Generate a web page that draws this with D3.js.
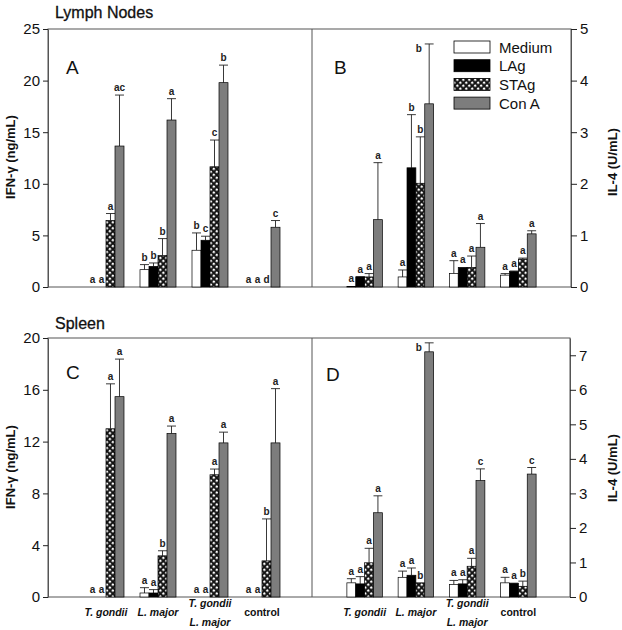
<!DOCTYPE html>
<html><head><meta charset="utf-8">
<script src="https://cdn.jsdelivr.net/npm/d3@7/dist/d3.min.js"></script>
<style>body{margin:0;background:#fff}svg{display:block;font-family:"Liberation Sans",Arial,sans-serif}</style>
</head><body><svg id="c" width="622" height="630"></svg>
<script>
const groups = ["T. gondii", "L. major", "T. gondii + L. major", "control"];
const treatments = ["Medium", "LAg", "STAg", "Con A"];

// Panel A: IFN-gamma, lymph nodes (ng/mL) — rows = groups, cols = treatments
const ifnLN      = [[0,0,6.44,13.66],[1.68,2.0,3.04,16.18],[3.56,4.53,11.65,19.8],[0,0,0,5.79]];
const ifnLNerr   = [[0,0,7.12,18.6],[2.17,2.33,4.69,18.25],[5.24,4.92,14.24,21.5],[0,0,0,6.44]];
const ifnLNlab   = [["a","a","a","ac"],["b","b","b","a"],["b","c","c","b"],["a","a","d","c"]];
// Panel B: IL-4, lymph nodes (U/mL)
const il4LN      = [[0.01,0.195,0.195,1.305],[0.195,2.31,2.01,3.55],[0.26,0.38,0.38,0.77],[0.23,0.30,0.54,1.03]];
const il4LNerr   = [[0.01,0.2,0.26,2.41],[0.33,3.34,2.91,4.71],[0.51,0.38,0.60,1.23],[0.26,0.31,0.56,1.09]];
const il4LNlab   = [["a","a","a","a"],["a","b","b","b"],["a","a","a","a"],["a","a","a","a"]];
// Panel C: IFN-gamma, spleen (ng/mL)
const ifnSP      = [[0,0,12.99,15.47],[0.31,0.31,3.18,12.63],[0,0,9.44,11.9],[0,0,2.79,11.9]];
const ifnSPerr   = [[0,0,16.46,18.37],[0.72,0.57,3.57,13.2],[0,0,9.88,12.73],[0,0,6.03,16.09]];
const ifnSPlab   = [["a","a","a","a"],["a","a","b","a"],["a","a","a","a"],["a","a","b","a"]];
// Panel D: IL-4, spleen (U/mL)
const il4SP      = [[0.41,0.38,0.99,2.44],[0.57,0.63,0.41,7.10],[0.36,0.38,0.89,3.37],[0.41,0.39,0.31,3.56]];
const il4SPerr   = [[0.53,0.59,1.41,2.93],[0.75,0.84,0.41,7.36],[0.48,0.50,1.12,3.71],[0.57,0.40,0.46,3.75]];
const il4SPlab   = [["a","a","a","a"],["a","a","b","b"],["a","a","a","c"],["a","a","b","c"]];

const ticksIFN_LN = [0,5,10,15,20,25];
const ticksIL4_LN = [0,1,2,3,4,5];
const ticksIFN_SP = [0,4,8,12,16,20];
const ticksIL4_SP = [0,1,2,3,4,5,6,7];

const svg = d3.select("#c");
const defs = svg.append("defs");
const pat = defs.append("pattern").attr("id","hatch").attr("patternUnits","userSpaceOnUse")
  .attr("width",4.2).attr("height",4.2).attr("patternTransform","rotate(45)");
pat.append("rect").attr("width",4.2).attr("height",4.2).attr("fill","#111");
pat.append("rect").attr("x",0.7).attr("y",0.7).attr("width",2.2).attr("height",2.2).attr("fill","#fff");

const fills = ["#fff","#000","url(#hatch)","#7d7d7d"];
const grey = "#555";
const fmt = d3.format("d");

function panel(opts){
  const {left,right,top,bottom,domain,ticks,vals,errs,labs,side,letter,xr,letterPos} = opts;
  const y = d3.scaleLinear().domain(domain).range([bottom,top]);
  const x0 = d3.scaleBand().domain(groups).range(xr).paddingInner(0.3077).paddingOuter(0.1538);
  const x1 = d3.scaleBand().domain(treatments).range([0,x0.bandwidth()]);
  const g = svg.append("g");
  groups.forEach((grp,gi)=>{
    treatments.forEach((t,ti)=>{
      const bx = x0(grp)+x1(t), bw = x1.bandwidth(), v = vals[gi][ti], e = errs[gi][ti];
      const cx = bx+bw/2;
      if(e>v){
        g.append("line").attr("x1",cx).attr("x2",cx).attr("y1",y(v)).attr("y2",y(e)).attr("stroke","#222").attr("stroke-width",0.9);
        g.append("line").attr("x1",bx).attr("x2",bx+bw).attr("y1",y(e)).attr("y2",y(e)).attr("stroke","#222").attr("stroke-width",0.9);
      }
      if(v>0){
        g.append("rect").attr("x",bx).attr("y",y(v)).attr("width",bw).attr("height",y(0)-y(v))
          .attr("fill",fills[ti]).attr("stroke","#000").attr("stroke-width",0.7);
      }
      let ly = y(Math.max(v,e))-4, lx = cx;
      if(ly < top+12){ lx = bx-6; ly = y(e)+8; }
      g.append("text").attr("x",lx).attr("y",ly).attr("text-anchor","middle")
        .attr("font-size",10).attr("font-weight","bold").attr("fill","#222").text(labs[gi][ti]);
    });
  });
  const axis = side==="left" ? d3.axisLeft(y).tickSize(5) : d3.axisRight(y).tickSize(6);
  axis.tickValues(ticks).tickFormat(fmt).tickSizeOuter(0);
  const ax = g.append("g").attr("transform",`translate(${side==="left"?left:right},0)`).call(axis);
  ax.select(".domain").attr("stroke",grey);
  ax.selectAll("line").attr("stroke","#222");
  ax.selectAll("text").attr("font-size",15).attr("fill","#111").attr("font-family","Liberation Sans, Arial");
  g.append("text").attr("x",letterPos[0]).attr("y",letterPos[1]).attr("font-size",19).attr("fill","#111").text(letter);
  return {x0};
}

function frame(top,bottom,right){
  svg.append("rect").attr("x",48).attr("y",top).attr("width",right-48).attr("height",bottom-top)
    .attr("fill","none").attr("stroke",grey).attr("stroke-width",1);
  svg.append("line").attr("x1",312).attr("x2",312).attr("y1",top).attr("y2",bottom).attr("stroke",grey).attr("stroke-width",1);
}

// Top row
frame(29,287,571);
panel({left:48,right:312,top:29,bottom:287,domain:[0,25],ticks:ticksIFN_LN,vals:ifnLN,errs:ifnLNerr,labs:ifnLNlab,side:"left",letter:"A",xr:[80,288],letterPos:[66,74]});
panel({left:312,right:571,top:29,bottom:287,domain:[0,5],ticks:ticksIL4_LN,vals:il4LN,errs:il4LNerr,labs:il4LNlab,side:"right",letter:"B",xr:[339,544],letterPos:[334,74]});
// Bottom row
frame(338,597,570);
const pc = panel({left:48,right:312,top:338,bottom:597,domain:[0,20],ticks:ticksIFN_SP,vals:ifnSP,errs:ifnSPerr,labs:ifnSPlab,side:"left",letter:"C",xr:[80,288],letterPos:[66,379]});
const pd = panel({left:312,right:570,top:338,bottom:597,domain:[0,7.5],ticks:ticksIL4_SP,vals:il4SP,errs:il4SPerr,labs:il4SPlab,side:"right",letter:"D",xr:[339,544],letterPos:[326,381]});

// x labels
const xlabLines = [["T. gondii"],["L. major"],["T. gondii","L. major"],["control"]];
[pc.x0,pd.x0].forEach(x0=>{
  groups.forEach((grp,gi)=>{
    const cx = x0(grp)+x0.bandwidth()/2;
    const lines = xlabLines[gi];
    lines.forEach((ln,li)=>{
      const yy = lines.length===1 ? 616 : 607+li*19;
      svg.append("text").attr("x",cx).attr("y",yy).attr("text-anchor","middle")
        .attr("font-size",10.5).attr("font-weight","bold").attr("font-style",gi===3?"normal":"italic")
        .attr("fill","#111").text(ln);
    });
  });
});

// Titles
svg.append("text").attr("x",55).attr("y",18).attr("font-size",16).attr("fill","#111").attr("stroke","#111").attr("stroke-width",0.3).text("Lymph Nodes");
svg.append("text").attr("x",55).attr("y",329).attr("font-size",16).attr("fill","#111").attr("stroke","#111").attr("stroke-width",0.3).text("Spleen");

function vlabel(x,y,t){
  svg.append("text").attr("transform",`translate(${x},${y}) rotate(-90)`).attr("text-anchor","middle")
    .attr("font-size",13).attr("font-weight","bold").attr("fill","#111").text(t);
}
vlabel(15,157,"IFN-γ (ng/mL)");
vlabel(617,162,"IL-4 (U/mL)");
vlabel(15,467,"IFN-γ (ng/mL)");
vlabel(617,468,"IL-4 (U/mL)");

// legend
const lg = svg.append("g");
treatments.forEach((t,i)=>{
  const yy = 41 + i*18.7;
  lg.append("rect").attr("x",454).attr("y",yy).attr("width",36).attr("height",12)
    .attr("fill",fills[i]).attr("stroke","#000").attr("stroke-width",0.8);
  lg.append("text").attr("x",499).attr("y",yy+11.5).attr("font-size",15).attr("fill","#111").text(t);
});
</script></body></html>
